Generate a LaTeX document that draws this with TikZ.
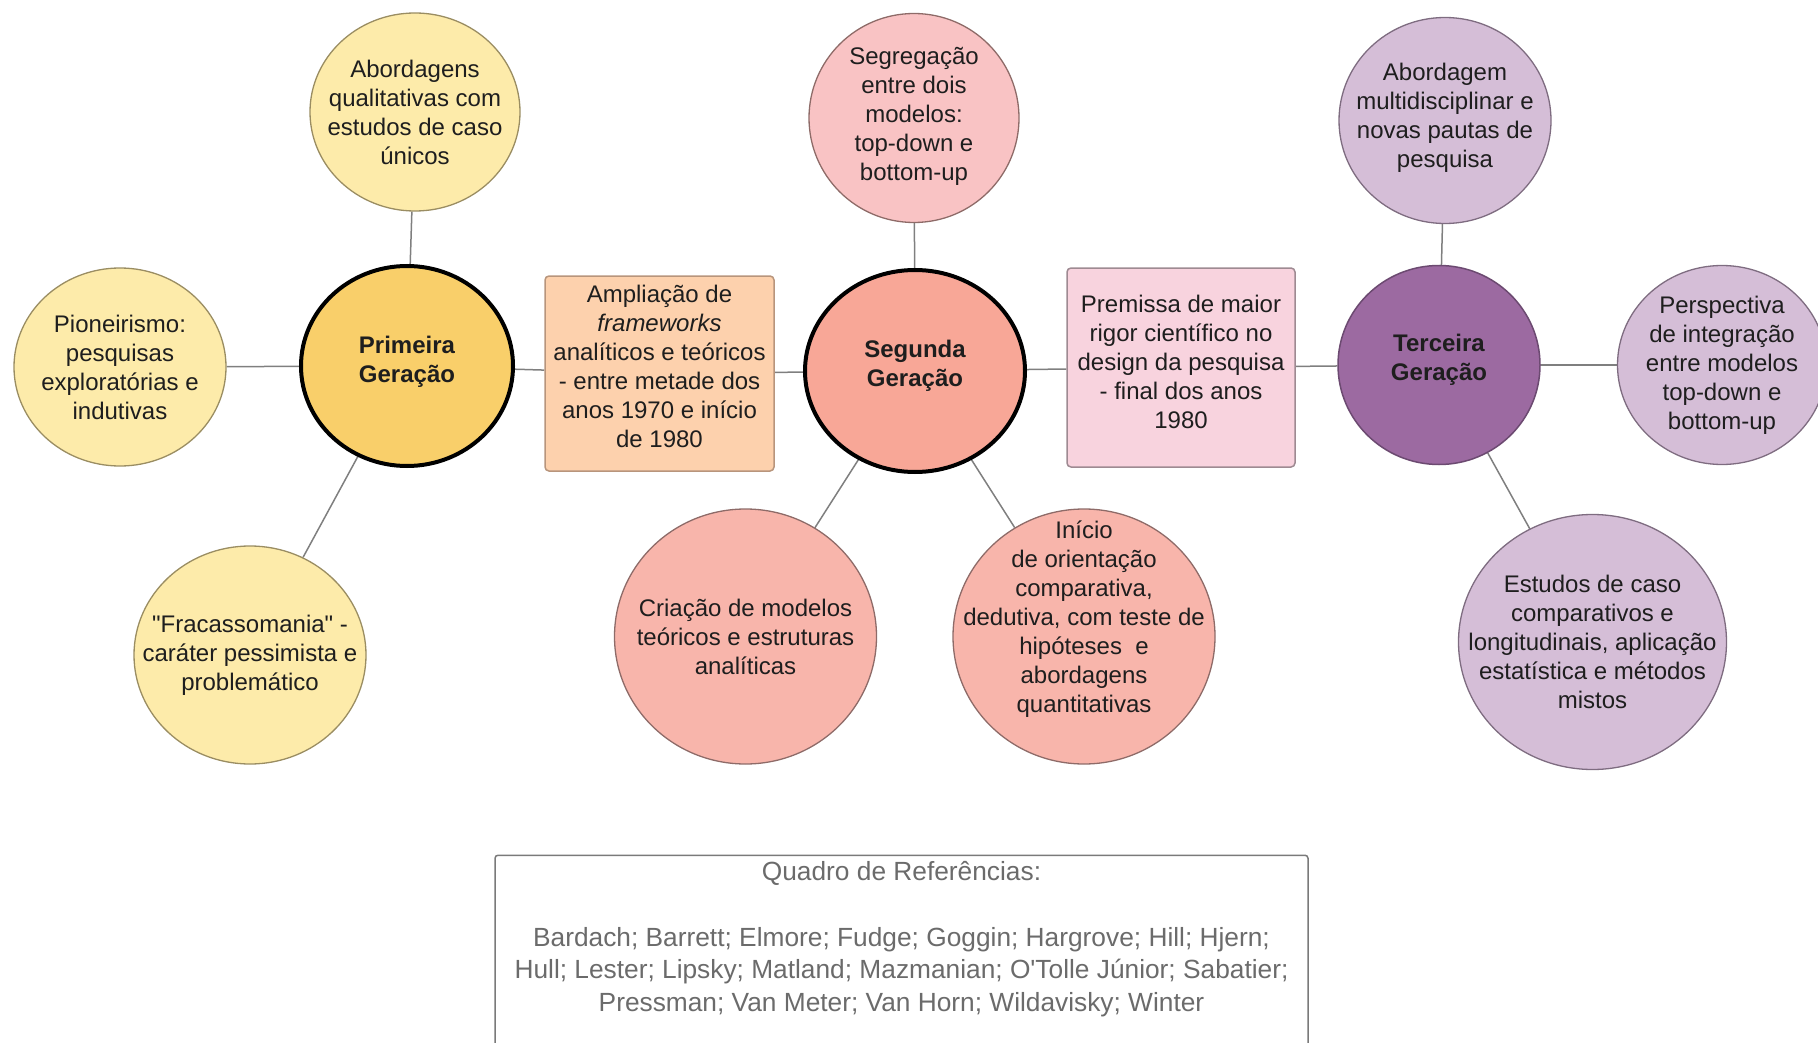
\documentclass[tikz,border=0pt]{standalone}
\usepackage{fontspec}
\setmainfont{Liberation Sans}
\usetikzlibrary{shapes.geometric,backgrounds}

\definecolor{ylight}{HTML}{FDEBAA}
\definecolor{yedge}{HTML}{9A8D62}
\definecolor{ydark}{HTML}{F9CF6A}
\definecolor{peach}{HTML}{FDD1AD}
\definecolor{peachedge}{HTML}{B8957C}
\definecolor{sdark}{HTML}{F8A797}
\definecolor{spink}{HTML}{F9C3C4}
\definecolor{ssalmon}{HTML}{F8B5AB}
\definecolor{sedge}{HTML}{8E6B68}
\definecolor{rose}{HTML}{F8D3DE}
\definecolor{roseedge}{HTML}{9E8A92}
\definecolor{pdark}{HTML}{9C6AA1}
\definecolor{pdarkedge}{HTML}{6C4A71}
\definecolor{plight}{HTML}{D5BED7}
\definecolor{pedge}{HTML}{7E6C80}
\definecolor{wire}{HTML}{7F7F7F}
\definecolor{ink}{HTML}{1E1E1E}
\definecolor{refgray}{HTML}{6B6B6B}

\begin{document}
\begin{tikzpicture}[x=1pt,y=-1pt,
  txt/.style={font=\fontsize{24}{29}\selectfont, align=center, text=ink},
  head/.style={font=\fontsize{24}{29}\selectfont\bfseries, align=center, text=ink},
  bubble/.style={ellipse, draw=#1, line width=1.3pt, inner sep=0pt},
  hub/.style={ellipse, draw=black, line width=4pt, inner sep=0pt},
  card/.style={rectangle, rounded corners=4pt, draw=#1, line width=1.5pt, inner sep=0pt},
  link/.style={draw=wire, line width=1.5pt},
  reftext/.style={font=\fontsize{26.3}{32.5}\selectfont, align=center, text=refgray},
]
\useasboundingbox (0,0) rectangle (1818,1043);

% ---------- first generation ----------
\node[hub, fill=ydark, minimum width=212pt, minimum height=200pt,
      label={[head, yshift=4pt]center:{Primeira\\Geração}}] (g1) at (407,366) {};
\node[bubble=yedge, fill=ylight, minimum width=210pt, minimum height=198pt,
      label={[txt]center:{Abordagens\\qualitativas com\\estudos de caso\\únicos}}] (abq) at (415,112) {};
\node[bubble=yedge, fill=ylight, minimum width=212pt, minimum height=198pt,
      label={[txt]center:{Pioneirismo:\\pesquisas\\exploratórias e\\indutivas}}] (pio) at (120,367) {};
\node[bubble=yedge, fill=ylight, minimum width=232pt, minimum height=218pt,
      label={[txt]center:{\textquotedbl Fracassomania\textquotedbl{} -\\caráter pessimista e\\problemático}}] (fra) at (250,655) {};

% ---------- transition 1 -> 2 ----------
\node[card=peachedge, fill=peach, minimum width=229pt, minimum height=195pt,
      label={[txt, yshift=7pt]center:{Ampliação de\\\textit{frameworks}\\analíticos e teóricos\\- entre metade dos\\anos 1970 e início\\de 1980}}] (amp) at (659.5,373.5) {};

% ---------- second generation ----------
\node[hub, fill=sdark, minimum width=220pt, minimum height=202pt,
      label={[head, yshift=5pt]center:{Segunda\\Geração}}] (g2) at (915,371) {};
\node[bubble=sedge, fill=spink, minimum width=210pt, minimum height=209pt,
      label={[txt, yshift=2pt]center:{Segregação\\entre dois\\modelos:\\top-down e\\bottom-up}}] (seg) at (914,118) {};
\node[bubble=sedge, fill=ssalmon, minimum width=262pt, minimum height=255pt,
      label={[txt]center:{Criação de modelos\\teóricos e estruturas\\analíticas}}] (cri) at (745.5,636.5) {};
\node[bubble=sedge, fill=ssalmon, minimum width=262pt, minimum height=255pt,
      label={[txt, yshift=17pt]center:{Início\\de orientação\\comparativa,\\dedutiva, com teste de\\hipóteses~ e\\abordagens\\quantitativas}}] (ini) at (1084,636.5) {};

% ---------- transition 2 -> 3 ----------
\node[card=roseedge, fill=rose, minimum width=228pt, minimum height=199pt,
      label={[txt, yshift=6pt]center:{Premissa de maior\\rigor científico no\\design da pesquisa\\- final dos anos\\1980}}] (pre) at (1181,367.5) {};

% ---------- third generation ----------
\node[ellipse, draw=pdarkedge, line width=1.5pt, inner sep=0pt, fill=pdark,
      minimum width=202pt, minimum height=199pt,
      label={[head, yshift=5pt]center:{Terceira\\Geração}}] (g3) at (1439,365) {};
\node[bubble=pedge, fill=plight, minimum width=212pt, minimum height=206pt,
      label={[txt, yshift=3pt]center:{Abordagem\\multidisciplinar e\\novas pautas de\\pesquisa}}] (abm) at (1445,120.5) {};
\node[bubble=pedge, fill=plight, minimum width=209pt, minimum height=199pt,
      label={[txt]center:{Perspectiva\\de integração\\entre modelos\\top-down e\\bottom-up}}] (per) at (1722,365) {};
\node[bubble=pedge, fill=plight, minimum width=268pt, minimum height=255pt,
      label={[txt]center:{Estudos de caso\\comparativos e\\longitudinais, aplicação\\estatística e métodos\\mistos}}] (est) at (1592.5,642) {};

% ---------- connectors ----------
\begin{scope}[on background layer]
  \path[link] (abq) -- (g1);
  \path[link] (pio) -- (g1);
  \path[link] (fra) -- (g1);
  \path[link] (g1) -- (amp);
  \path[link] (amp) -- (g2);
  \path[link] (seg) -- (g2);
  \path[link] (cri) -- (g2);
  \path[link] (ini) -- (g2);
  \path[link] (g2) -- (pre);
  \path[link] (pre) -- (g3);
  \path[link] (abm) -- (g3);
  \path[link] (g3) -- (per);
  \path[link] (est) -- (g3);
\end{scope}

% ---------- references panel ----------
\node[rectangle, rounded corners=3pt, draw=refgray!90, line width=1.5pt, fill=white,
      minimum width=813pt, minimum height=240pt, anchor=north] (refbox) at (901.5,854.5) {};
\node[reftext] (reftitle) at (901.5,873) {Quadro de Referências:};
\node[reftext] (reflist) at (901.5,972)
  {Bardach; Barrett; Elmore; Fudge; Goggin; Hargrove; Hill; Hjern;\\
   Hull; Lester; Lipsky; Matland; Mazmanian; O\textquotesingle Tolle Júnior; Sabatier;\\
   Pressman; Van Meter; Van Horn; Wildavisky; Winter};
\end{tikzpicture}
\end{document}
